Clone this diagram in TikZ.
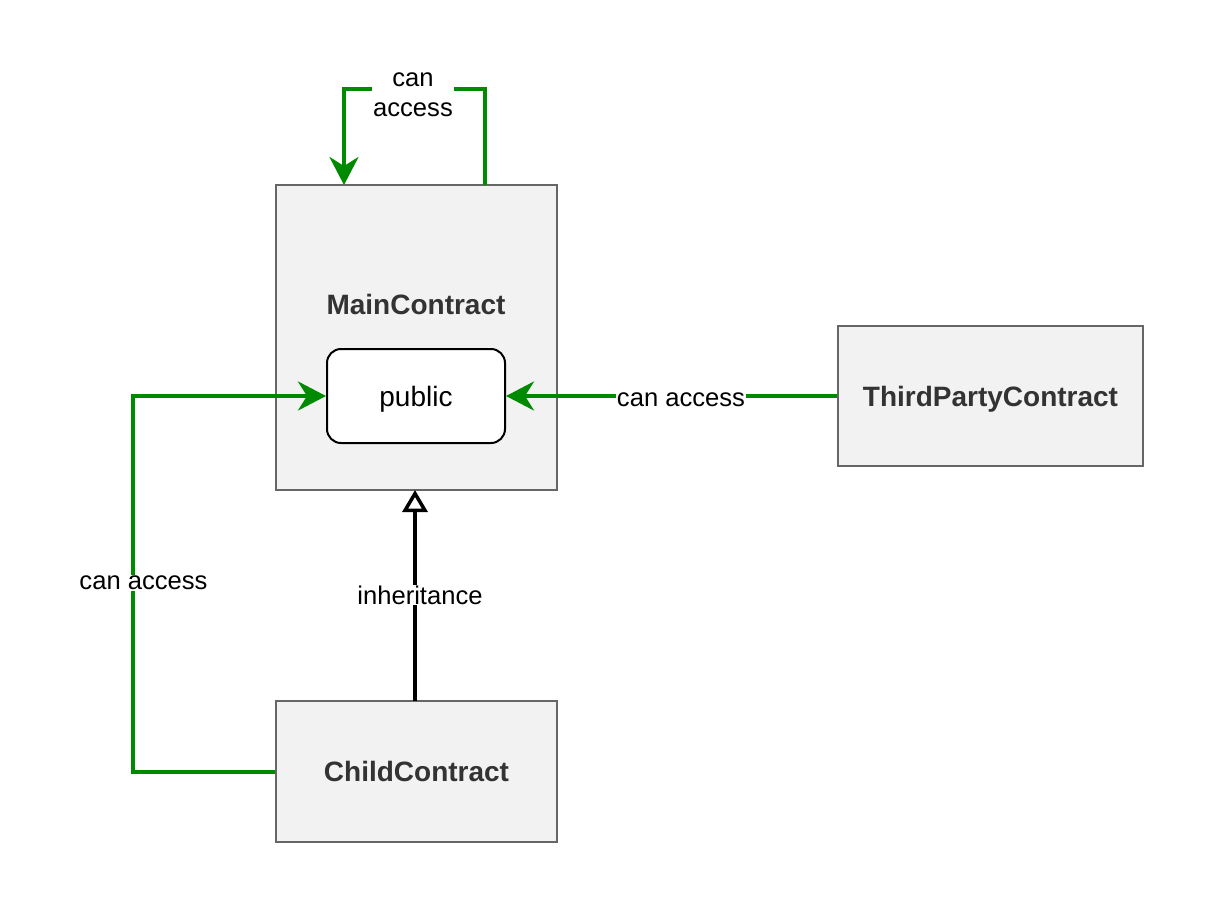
\documentclass[tikz,border=0pt]{standalone}
\usepackage{fontspec}
\setmainfont{Liberation Sans}
\usetikzlibrary{arrows.meta}
\definecolor{accgreen}{HTML}{008A00}
\definecolor{boxfill}{HTML}{F2F2F2}
\definecolor{boxline}{HTML}{666666}
\definecolor{boxtext}{HTML}{333333}
\begin{document}
\begin{tikzpicture}[x=1pt,y=-1pt,
  contract/.style={draw=boxline,line width=2pt,fill=boxfill,inner sep=0pt,text depth=0pt,
    font=\fontsize{28}{33}\selectfont\bfseries,text=boxtext},
  pubbox/.style={draw=black,line width=2pt,fill=white,rounded corners=14pt,inner sep=0pt,text depth=0pt,
    minimum width=178pt,minimum height=94pt,font=\fontsize{28}{33}\selectfont},
  access/.style={draw=accgreen,line width=4pt,
    -{Stealth[length=28pt,width=29pt,inset=9pt]}},
  inherit/.style={draw=black,line width=4pt,
    -{Triangle[open,length=22pt,width=25pt,line width=3.5pt,fill=white]}},
  lbl/.style={fill=white,inner sep=1pt,font=\fontsize{25.6}{30}\selectfont,align=center}
]
\useasboundingbox (0,0) rectangle (1208,914);
\node[contract,minimum width=281pt,minimum height=305pt] (main) at (416.5,337.5) {};
\node[font=\fontsize{28}{33}\selectfont\bfseries,text=boxtext] (maintitle) at (416,304) {MainContract};
\node[pubbox] (public) at (416,396) {public};
\node[contract,minimum width=305pt,minimum height=140pt] (third) at (990.5,396) {ThirdPartyContract};
\node[contract,minimum width=281pt,minimum height=141pt] (child) at (416.5,771.5) {ChildContract};

\coordinate (loopA) at (485,185);
\coordinate (loopB) at (344,185);
\draw[access] (loopA) -- (485,89) -- (344,89) -- (loopB);
\node[lbl] (looplbl) at (413,95) {can\\access};

\draw[access] (third.west) -- (public.east);
\node[lbl] (thirdlbl) at (681,400) {can access};

\draw[access] (child.west) -- (133,771.5) -- (133,396) -- (public.west);
\node[lbl] (childlbl) at (143.5,583) {can access};

\coordinate (inhA) at (415,701);
\coordinate (inhB) at (415,490);
\draw[inherit] (inhA) -- (inhB);
\node[lbl] (inhlbl) at (420,595) {inheritance};
\end{tikzpicture}
\end{document}
